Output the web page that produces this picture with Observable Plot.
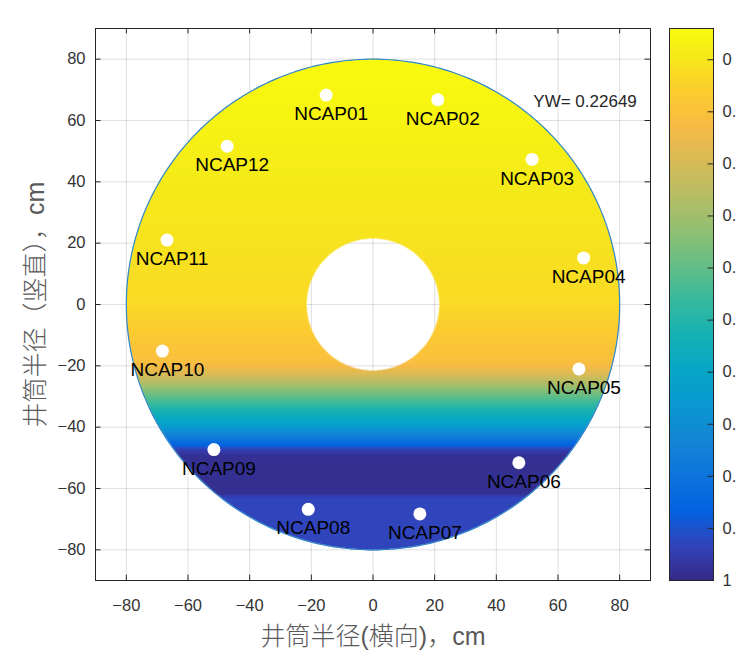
<!DOCTYPE html>
<html>
<head>
<meta charset="utf-8">
<script src="https://cdn.jsdelivr.net/npm/d3@7"></script>
<script src="https://cdn.jsdelivr.net/npm/@observablehq/plot@0.6"></script>
<style>
html, body { margin: 0; padding: 0; background: #fff; overflow: hidden; width: 736px; height: 672px; }
#wrap { position: relative; width: 736px; height: 672px; }
#main { position: absolute; left: 0; top: 0; }
#cbar { position: absolute; left: 660px; top: 0; width: 76px; height: 672px; overflow: hidden; }
#cbar svg { overflow: hidden; }
</style>
</head>
<body>
<div id="wrap"><div id="main"></div><div id="cbar"></div></div>
<script>
// ---- data ----
const sensorNames = ["NCAP01","NCAP02","NCAP03","NCAP04","NCAP05","NCAP06","NCAP07","NCAP08","NCAP09","NCAP10","NCAP11","NCAP12"];
const sensorX = [-15.2, 21.0, 51.6, 68.3, 66.8, 47.3, 15.2, -21.0, -51.6, -68.3, -66.8, -47.3];
const sensorY = [68.3, 66.8, 47.3, 15.2, -21.0, -51.6, -68.3, -66.8, -47.3, -15.2, 21.0, 51.6];
// vertical profile of the field (value vs. height)
const profileY     = [80,    40,    0,    -19,  -22,  -25.5, -29.5, -35,  -40,  -44, -46,  -47.5, -49.5, -61.5, -63,  -80];
const profileValue = [-0.06, -0.01, 0.03, 0.11, 0.17, 0.27,  0.39,  0.53, 0.65, 0.80, 0.87, 0.95,  0.985, 0.985, 0.93, 0.93];
const outerRadius = 80;
const innerRadius = 21.5;
const axisTicks = [-80, -60, -40, -20, 0, 20, 40, 60, 80];
const colorTicks = [0, 0.1, 0.2, 0.3, 0.4, 0.5, 0.6, 0.7, 0.8, 0.9, 1];
const colorDomain = [-0.06, 1];
const ywText = "YW= 0.22649";
const ywPos = [52, 66.2];
const xLabel = "井筒半径(横向)，cm";
const yLabel = "井筒半径（竖直），cm";

// parula colormap anchors (MATLAB)
const parulaColors = ["#352a87","#3243ba","#0363e1","#0d75dc","#1485d4","#0998d1","#06a7c6","#15b1b4","#38b99e","#65be86","#92bf73","#b7bd64","#d9ba56","#f8bb44","#fcce2e","#f5eb18","#f9fb0e"];
const parulaStops = [0,4,8,12,16,20,24,28,32,36,40,44,48,52,56,60,63].map(i => i / 63);
const parula = d3.scaleLinear().domain(parulaStops).range(parulaColors).interpolate(d3.interpolateRgb).clamp(true);
const colorScale = {type: "linear", domain: colorDomain, interpolate: t => parula(1 - t), clamp: true};

const profile = d3.scaleLinear().domain(profileY.slice().reverse()).range(profileValue.slice().reverse()).clamp(true);

const FONT = "'Liberation Sans', Arial, Helvetica, 'Noto Sans CJK SC', sans-serif";
const INK = "#262626";
const LABEL_INK = "#5a5a5a";

const W = 660, H = 672, ML = 95, MR = 10, MT = 28, MB = 92;
const FW = W - ML - MR, FH = H - MT - MB;
const TL = 5.5;

const sensors = sensorNames.map((name, i) => ({name, x: sensorX[i], y: sensorY[i]}));
const circle = d3.range(0, 361, 1).map(a => ({x: outerRadius * Math.cos(a * Math.PI / 180), y: outerRadius * Math.sin(a * Math.PI / 180)}));

const main = Plot.plot({
  width: W, height: H,
  marginLeft: ML, marginRight: MR, marginTop: MT, marginBottom: MB,
  style: {fontFamily: FONT, fontSize: "16px", color: INK, background: "#fff"},
  x: {domain: [-90, 90]},
  y: {domain: [-90, 90]},
  color: colorScale,
  marks: [
    Plot.gridX(axisTicks, {stroke: INK, strokeOpacity: 0.15, strokeWidth: 1}),
    Plot.gridY(axisTicks, {stroke: INK, strokeOpacity: 0.15, strokeWidth: 1}),
    Plot.raster({
      x1: -90, x2: 90, y1: -90, y2: 90, pixelSize: 0.5,
      fill: (x, y) => {
        const r = Math.hypot(x, y);
        return (r <= outerRadius && r >= innerRadius) ? profile(y) : NaN;
      }
    }),
    Plot.line(circle, {x: "x", y: "y", stroke: "#2f86c8", strokeWidth: 1.2}),
    Plot.dot(sensors, {x: "x", y: "y", r: 6.5, fill: "#fff", stroke: null}),
    Plot.text(sensors, {x: "x", y: "y", text: "name", dx: 5, dy: 19, fontSize: 19, fill: "#000", textAnchor: "middle", lineAnchor: "middle"}),
    Plot.text([ywText], {x: () => ywPos[0], y: () => ywPos[1], text: d => d, textAnchor: "start", lineAnchor: "middle", fontSize: 17, fill: INK}),
    Plot.frame({stroke: INK, strokeWidth: 1}),
    Plot.tickX(axisTicks, {x: d => d, insetTop: FH - TL, stroke: INK}),
    Plot.tickX(axisTicks, {x: d => d, insetBottom: FH - TL, stroke: INK}),
    Plot.tickY(axisTicks, {y: d => d, insetLeft: FW - TL, stroke: INK}),
    Plot.tickY(axisTicks, {y: d => d, insetRight: FW - TL, stroke: INK}),
    Plot.axisX(axisTicks, {anchor: "bottom", tickSize: 0, tickPadding: 19, label: null, fontSize: 16.5, fill: "#333"}),
    Plot.axisY(axisTicks, {anchor: "left", tickSize: 0, tickPadding: 10, label: null, fontSize: 16.5, fill: "#333"}),
    Plot.text([xLabel], {frameAnchor: "bottom", dy: 56, text: d => d, fontSize: 25, fontWeight: 300, fill: LABEL_INK, textAnchor: "middle", lineAnchor: "middle"}),
    Plot.text([yLabel], {frameAnchor: "left", dx: -60, text: d => d, fontSize: 25, fontWeight: 300, fill: LABEL_INK, rotate: -90, textAnchor: "middle", lineAnchor: "middle"})
  ]
});
document.getElementById("main").appendChild(main);

const CW = 76, CML = 9, CMR = 23;
const CFW = CW - CML - CMR;
const cbar = Plot.plot({
  width: CW, height: H,
  marginLeft: CML, marginRight: CMR, marginTop: MT, marginBottom: MB,
  style: {fontFamily: FONT, fontSize: "16px", color: INK, background: "#fff", overflow: "hidden"},
  x: {domain: [0, 1], axis: null},
  y: {domain: colorDomain, reverse: true, axis: null},
  color: colorScale,
  marks: [
    Plot.raster({x1: 0, x2: 1, y1: colorDomain[0], y2: colorDomain[1], fill: (x, y) => y, pixelSize: 1}),
    Plot.frame({stroke: INK, strokeWidth: 1}),
    Plot.tickY(colorTicks, {y: d => d, insetLeft: CFW - TL, stroke: INK}),
    Plot.axisY(colorTicks, {anchor: "right", tickSize: 0, tickPadding: 9, label: null, fontSize: 16.5, fill: "#333", tickFormat: d => String(d)})
  ]
});
document.getElementById("cbar").appendChild(cbar);
</script>
</body>
</html>
